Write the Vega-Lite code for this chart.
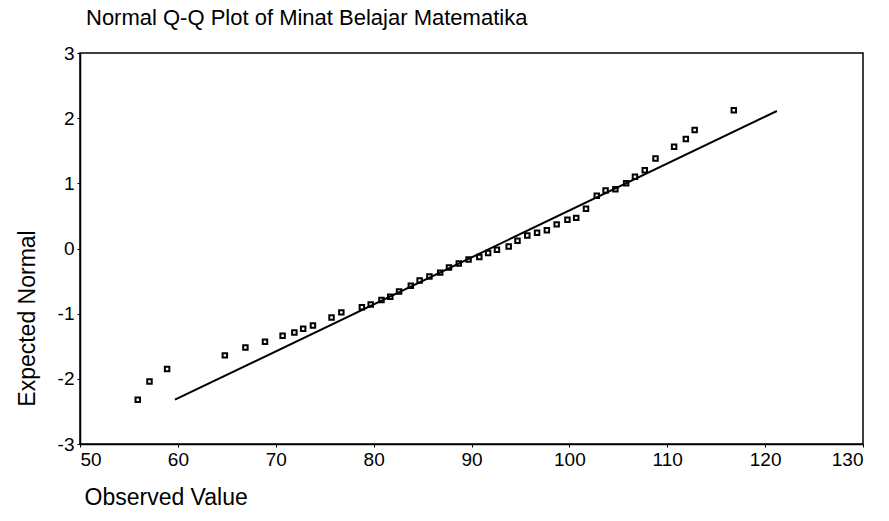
{
  "$schema": "https://vega.github.io/schema/vega-lite/v6.json",
  "autosize": "none",
  "width": 783,
  "height": 391,
  "padding": {"left": 80, "top": 53, "right": 26, "bottom": 77},
  "background": "white",
  "config": {
    "font": "Liberation Sans",
    "view": {"stroke": "black", "strokeWidth": 1.5},
    "axis": {"grid": false, "domainColor": "black", "domainWidth": 1.5, "tickColor": "black", "tickSize": 3, "labelColor": "black", "titleColor": "black", "labelFont": "Liberation Sans", "titleFont": "Liberation Sans", "titleFontWeight": "normal", "labelFontSize": 19}
  },
  "title": {"text": "Normal Q-Q Plot of Minat Belajar Matematika", "anchor": "start", "frame": "group", "fontSize": 22, "fontWeight": "normal", "color": "black", "font": "Liberation Sans", "baseline": "alphabetic", "offset": -3, "dx": 6},
  "datasets": {
    "points": [
      {"observed": 55.9, "expected": -2.32},
      {"observed": 57.1, "expected": -2.04},
      {"observed": 58.9, "expected": -1.85},
      {"observed": 64.8, "expected": -1.64},
      {"observed": 66.9, "expected": -1.52},
      {"observed": 68.9, "expected": -1.43},
      {"observed": 70.7, "expected": -1.34},
      {"observed": 71.9, "expected": -1.29},
      {"observed": 72.8, "expected": -1.23},
      {"observed": 73.8, "expected": -1.18},
      {"observed": 75.7, "expected": -1.06},
      {"observed": 76.7, "expected": -0.98},
      {"observed": 78.8, "expected": -0.9},
      {"observed": 79.7, "expected": -0.86},
      {"observed": 80.8, "expected": -0.79},
      {"observed": 81.7, "expected": -0.74},
      {"observed": 82.6, "expected": -0.66},
      {"observed": 83.8, "expected": -0.57},
      {"observed": 84.7, "expected": -0.49},
      {"observed": 85.7, "expected": -0.43},
      {"observed": 86.8, "expected": -0.37},
      {"observed": 87.7, "expected": -0.29},
      {"observed": 88.7, "expected": -0.23},
      {"observed": 89.7, "expected": -0.17},
      {"observed": 90.8, "expected": -0.13},
      {"observed": 91.7, "expected": -0.07},
      {"observed": 92.6, "expected": -0.02},
      {"observed": 93.8, "expected": 0.03},
      {"observed": 94.7, "expected": 0.12},
      {"observed": 95.7, "expected": 0.2},
      {"observed": 96.7, "expected": 0.24},
      {"observed": 97.7, "expected": 0.28},
      {"observed": 98.7, "expected": 0.37},
      {"observed": 99.8, "expected": 0.44},
      {"observed": 100.7, "expected": 0.47},
      {"observed": 101.7, "expected": 0.61},
      {"observed": 102.8, "expected": 0.81},
      {"observed": 103.7, "expected": 0.89},
      {"observed": 104.7, "expected": 0.91},
      {"observed": 105.8, "expected": 1.0},
      {"observed": 106.7, "expected": 1.1},
      {"observed": 107.7, "expected": 1.2},
      {"observed": 108.8, "expected": 1.38},
      {"observed": 110.7, "expected": 1.56},
      {"observed": 111.9, "expected": 1.68},
      {"observed": 112.8, "expected": 1.82},
      {"observed": 116.8, "expected": 2.12}
    ],
    "line": [
      {"observed": 59.7, "expected": -2.32},
      {"observed": 121.2, "expected": 2.11}
    ]
  },
  "layer": [
    {
      "data": {"name": "line"},
      "mark": {"type": "line", "color": "black", "strokeWidth": 2},
      "encoding": {
        "x": {"field": "observed", "type": "quantitative", "scale": {"domain": [50, 130], "nice": false, "zero": false},
          "axis": {"values": [50, 60, 70, 80, 90, 100, 110, 120, 130], "format": "d", "title": "Observed Value", "titleFontSize": 23, "titleAnchor": "start", "titleAlign": "left", "titleBaseline": "alphabetic", "titleX": 4, "titleY": 60, "labelPadding": 3}},
        "y": {"field": "expected", "type": "quantitative", "scale": {"domain": [-3, 3], "nice": false, "zero": false},
          "axis": {"values": [-3, -2, -1, 0, 1, 2, 3], "labelExpr": "'' + datum.value", "title": "Expected Normal", "titleFontSize": 23, "titleAngle": 270, "titleAlign": "center", "titleBaseline": "alphabetic", "titleX": -46, "titleY": 265, "labelPadding": 3}}
      }
    },
    {
      "data": {"name": "points"},
      "mark": {"type": "point", "shape": "square", "filled": false, "color": "black", "size": 20, "strokeWidth": 2, "opacity": 1},
      "encoding": {
        "x": {"field": "observed", "type": "quantitative"},
        "y": {"field": "expected", "type": "quantitative"}
      }
    }
  ]
}
